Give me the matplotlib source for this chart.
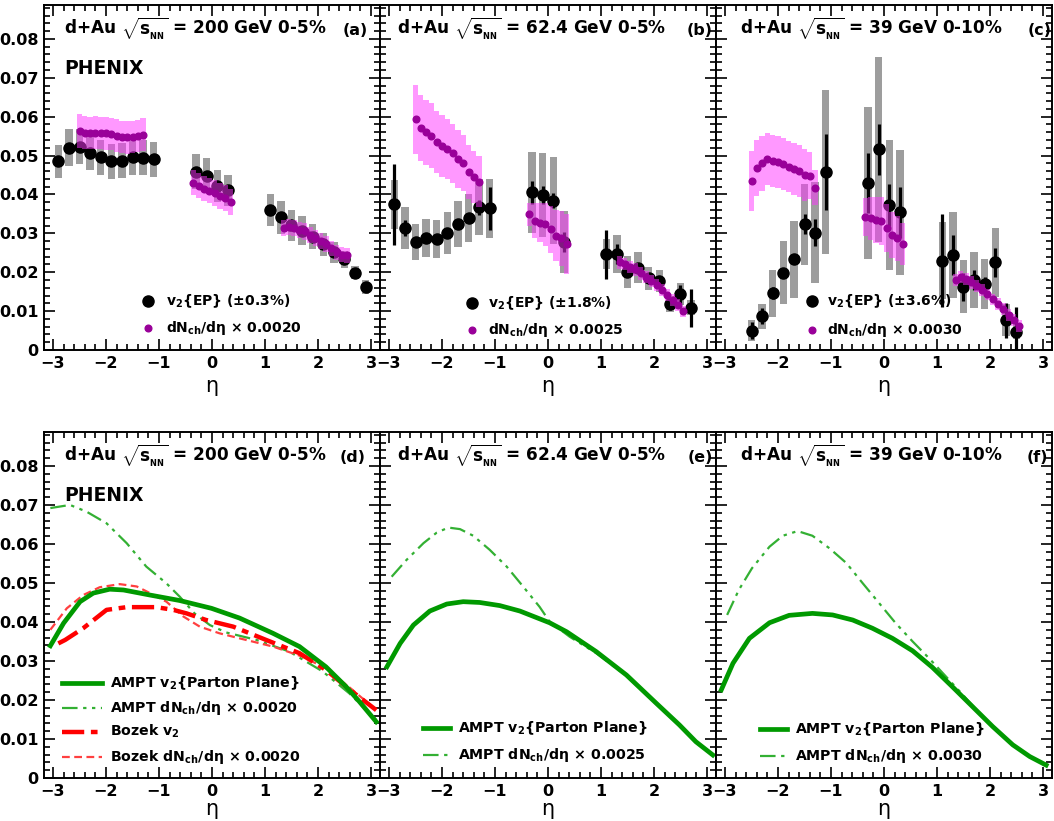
import numpy as np
import matplotlib
matplotlib.use('Agg')
import matplotlib.pyplot as plt
from matplotlib.ticker import MultipleLocator, FuncFormatter

plt.rcParams['font.family'] = ['DejaVu Sans']
plt.rcParams['font.weight'] = 'bold'
plt.rcParams['mathtext.fontset'] = 'custom'
plt.rcParams['mathtext.rm'] = 'DejaVu Sans:bold'
plt.rcParams['mathtext.it'] = 'DejaVu Sans:bold'
plt.rcParams['mathtext.bf'] = 'DejaVu Sans:bold'

# ---------------- data: top row (measured v2 and scaled dN/deta) ----------------
eta_v2_ab = [-2.9, -2.7, -2.5, -2.3, -2.1, -1.9, -1.7, -1.5, -1.3, -1.1,
             -0.3, -0.1, 0.1, 0.3,
             1.1, 1.3, 1.5, 1.7, 1.9, 2.1, 2.3, 2.5, 2.7, 2.9]
v2_a = [0.0485, 0.0520, 0.0523, 0.0507, 0.0495, 0.0485, 0.0486, 0.0495, 0.0494, 0.0490,
        0.0458, 0.0448, 0.0422, 0.0411,
        0.0360, 0.0341, 0.0321, 0.0307, 0.0291, 0.0272, 0.0251, 0.0233, 0.0199, 0.0163]
stat_a = [0.0005, 0.0005, 0.0005, 0.0005, 0.0005, 0.0005, 0.0005, 0.0005, 0.0005, 0.0005,
          0.0005, 0.0005, 0.0005, 0.0005,
          0.0005, 0.0005, 0.0005, 0.0005, 0.0005, 0.0005, 0.0005, 0.0005, 0.0008, 0.0012]
sys_a = [0.0042, 0.0047, 0.0046, 0.0045, 0.0045, 0.0045, 0.0045, 0.0045, 0.0045, 0.0045,
         0.0045, 0.0045, 0.0042, 0.0040,
         0.0042, 0.0043, 0.0040, 0.0037, 0.0032, 0.0030, 0.0027, 0.0022, 0.0017, 0.0018]

eta_v2_b = [-2.9, -2.7, -2.5, -2.3, -2.1, -1.9, -1.7, -1.5, -1.3, -1.1,
            -0.3, -0.1, 0.1, 0.3,
            1.1, 1.3, 1.5, 1.7, 1.9, 2.1, 2.3, 2.5, 2.7]
v2_b = [0.0375, 0.0313, 0.0278, 0.0289, 0.0285, 0.0302, 0.0323, 0.0340, 0.0367, 0.0364,
        0.0405, 0.0398, 0.0384, 0.0278,
        0.0246, 0.0247, 0.0200, 0.0212, 0.0184, 0.0177, 0.0118, 0.0143, 0.0109]
stat_b = [0.0104, 0.0020, 0.0010, 0.0010, 0.0010, 0.0010, 0.0010, 0.0010, 0.0019, 0.0056,
          0.0030, 0.0023, 0.0020, 0.0025,
          0.0063, 0.0025, 0.0012, 0.0010, 0.0010, 0.0012, 0.0015, 0.0024, 0.0049]
sys_b = [0.0063, 0.0054, 0.0047, 0.0049, 0.0049, 0.0054, 0.0059, 0.0062, 0.0072, 0.0075,
         0.0104, 0.0108, 0.0112, 0.0080,
         0.0039, 0.0048, 0.0041, 0.0039, 0.0030, 0.0028, 0.0020, 0.0028, 0.0020]

eta_v2_c = [-2.5, -2.3, -2.1, -1.9, -1.7, -1.5, -1.3, -1.1,
            -0.3, -0.1, 0.1, 0.3,
            1.1, 1.3, 1.5, 1.7, 1.9, 2.1, 2.3, 2.5]
v2_c = [0.0050, 0.0087, 0.0146, 0.0199, 0.0233, 0.0323, 0.0302, 0.0458,
        0.0430, 0.0516, 0.0373, 0.0354,
        0.0230, 0.0244, 0.0163, 0.0180, 0.0169, 0.0225, 0.0077, 0.0047]
stat_c = [0.0023, 0.0020, 0.0015, 0.0010, 0.0010, 0.0026, 0.0035, 0.0097,
          0.0077, 0.0066, 0.0055, 0.0066,
          0.0119, 0.0051, 0.0036, 0.0026, 0.0019, 0.0037, 0.0045, 0.0064]
sys_c = [0.0026, 0.0032, 0.0060, 0.0082, 0.0099, 0.0104, 0.0129, 0.0210,
         0.0195, 0.0238, 0.0167, 0.0160,
         0.0099, 0.0111, 0.0069, 0.0071, 0.0064, 0.0088, 0.0040, 0.0020]

eta_dn = [-2.5, -2.4, -2.3, -2.2, -2.1, -2.0, -1.9, -1.8, -1.7, -1.6, -1.5, -1.4, -1.3,
          -0.35, -0.25, -0.15, -0.05, 0.05, 0.15, 0.25, 0.35,
          1.35, 1.45, 1.55, 1.65, 1.75, 1.85, 1.95, 2.05, 2.15, 2.25, 2.35, 2.45, 2.55]
dn_a = [0.0564, 0.0559, 0.0558, 0.0559, 0.0558, 0.0557, 0.0555, 0.0551, 0.0548, 0.0547, 0.0548, 0.0550, 0.0554,
        0.0430, 0.0422, 0.0415, 0.0410, 0.0403, 0.0396, 0.0390, 0.0381,
        0.0314, 0.0317, 0.0314, 0.0309, 0.0305, 0.0295, 0.0288, 0.0280, 0.0272, 0.0261, 0.0251, 0.0245, 0.0243]
dnerr_a = [0.0044, 0.0042, 0.0042, 0.0042, 0.0042, 0.0042, 0.0042, 0.0042, 0.0042, 0.0042, 0.0042, 0.0042, 0.0042,
           0.0032, 0.0032, 0.0032, 0.0032, 0.0033, 0.0033, 0.0033, 0.0034,
           0.0021, 0.0021, 0.0021, 0.0021, 0.0021, 0.0020, 0.0020, 0.0020, 0.0020, 0.0020, 0.0020, 0.0020, 0.0020]
dn_b = [0.0593, 0.0570, 0.0560, 0.0551, 0.0534, 0.0524, 0.0516, 0.0506, 0.0491, 0.0480, 0.0457, 0.0444, 0.0433,
        0.0349, 0.0332, 0.0327, 0.0323, 0.0310, 0.0294, 0.0287, 0.0272,
        0.0225, 0.0221, 0.0214, 0.0207, 0.0197, 0.0188, 0.0178, 0.0167, 0.0154, 0.0141, 0.0129, 0.0116, 0.0099]
dnerr_b = [0.0088, 0.0085, 0.0084, 0.0083, 0.0080, 0.0079, 0.0077, 0.0076, 0.0074, 0.0072, 0.0069, 0.0067, 0.0065,
           0.0030, 0.0045, 0.0050, 0.0055, 0.0060, 0.0065, 0.0070, 0.0077,
           0.0016, 0.0016, 0.0016, 0.0016, 0.0016, 0.0016, 0.0015, 0.0015, 0.0015, 0.0015, 0.0015, 0.0015, 0.0015]
dn_c = [0.0435, 0.0469, 0.0480, 0.0491, 0.0486, 0.0483, 0.0478, 0.0471, 0.0465, 0.0460, 0.0450, 0.0448, 0.0417,
        0.0343, 0.0339, 0.0334, 0.0332, 0.0313, 0.0296, 0.0287, 0.0272,
        0.0180, 0.0187, 0.0182, 0.0174, 0.0165, 0.0154, 0.0143, 0.0130, 0.0118, 0.0105, 0.0090, 0.0077, 0.0062]
dnerr_c = [0.0077, 0.0072, 0.0070, 0.0068, 0.0066, 0.0066, 0.0066, 0.0066, 0.0066, 0.0066, 0.0066, 0.0060, 0.0045,
           0.0049, 0.0055, 0.0060, 0.0062, 0.0062, 0.0060, 0.0058, 0.0054,
           0.0016, 0.0016, 0.0016, 0.0016, 0.0016, 0.0016, 0.0015, 0.0015, 0.0015, 0.0015, 0.0015, 0.0015, 0.0015]

# ---------------- data: bottom row (model curves) ----------------
d_eta_ampt_v2 = [-3.05, -2.80, -2.49, -2.24, -1.93, -1.67, -1.17, -0.61, -0.01, 0.52, 1.15, 1.65, 2.15, 2.53, 2.78, 3.10]
d_ampt_v2 = [0.0339, 0.0397, 0.0452, 0.0474, 0.0484, 0.0482, 0.0469, 0.0455, 0.0435, 0.0410, 0.0371, 0.0337, 0.0285, 0.0234, 0.0196, 0.0144]
d_eta_ampt_dn = [-3.05, -2.68, -2.37, -1.99, -1.61, -1.24, -0.86, -0.61, -0.33, -0.04, 0.27, 0.84, 1.46, 2.09, 2.59, 3.10]
d_ampt_dn = [0.0692, 0.0700, 0.0683, 0.0653, 0.0602, 0.0542, 0.0499, 0.0465, 0.0422, 0.0392, 0.0373, 0.0354, 0.0324, 0.0273, 0.0217, 0.0149]
d_eta_bozek_v2 = [-2.90, -2.77, -2.43, -1.99, -1.61, -1.05, -0.73, -0.48, -0.11, 0.40, 1.02, 1.65, 2.15, 2.65, 3.10]
d_bozek_v2 = [0.0345, 0.0354, 0.0384, 0.0431, 0.0438, 0.0438, 0.0431, 0.0422, 0.0405, 0.0388, 0.0354, 0.0320, 0.0277, 0.0221, 0.0174]
d_eta_bozek_dn = [-3.05, -2.74, -2.43, -2.12, -1.74, -1.42, -1.17, -0.86, -0.54, -0.23, 0.14, 0.52, 1.15, 1.71, 2.15, 2.65, 3.10]
d_bozek_dn = [0.0380, 0.0435, 0.0469, 0.0489, 0.0497, 0.0491, 0.0474, 0.0452, 0.0414, 0.0388, 0.0371, 0.0358, 0.0337, 0.0311, 0.0281, 0.0226, 0.0174]

e_eta_ampt_v2 = [-3.04, -2.79, -2.54, -2.23, -1.91, -1.60, -1.29, -0.91, -0.53, 0.03, 0.35, 0.91, 1.48, 2.04, 2.48, 2.79, 3.11]
e_ampt_v2 = [0.0285, 0.0345, 0.0392, 0.0428, 0.0446, 0.0452, 0.0450, 0.0442, 0.0428, 0.0398, 0.0375, 0.0324, 0.0264, 0.0192, 0.0136, 0.0093, 0.0059]
e_eta_ampt_dn = [-2.95, -2.67, -2.35, -2.10, -1.88, -1.66, -1.41, -1.10, -0.78, -0.47, -0.16, 0.03, 0.41, 0.91, 1.48, 2.04, 2.48, 2.79, 3.11]
e_ampt_dn = [0.0516, 0.0559, 0.0602, 0.0629, 0.0642, 0.0638, 0.0621, 0.0585, 0.0542, 0.0491, 0.0439, 0.0401, 0.0362, 0.0320, 0.0262, 0.0190, 0.0134, 0.0091, 0.0058]

f_eta_ampt_v2 = [-3.07, -2.85, -2.54, -2.16, -1.79, -1.35, -0.97, -0.59, -0.22, 0.16, 0.54, 0.91, 1.29, 1.67, 2.05, 2.43, 2.75, 3.06]
f_ampt_v2 = [0.0226, 0.0294, 0.0358, 0.0398, 0.0417, 0.0422, 0.0418, 0.0405, 0.0384, 0.0358, 0.0326, 0.0284, 0.0234, 0.0183, 0.0132, 0.0085, 0.0055, 0.0033]
f_eta_ampt_dn = [-2.96, -2.74, -2.49, -2.16, -1.91, -1.63, -1.35, -1.03, -0.71, -0.40, -0.09, 0.22, 0.54, 0.85, 1.17, 1.49, 1.80, 2.12, 2.43, 2.75, 3.06]
f_ampt_dn = [0.0418, 0.0482, 0.0538, 0.0593, 0.0621, 0.0633, 0.0621, 0.0589, 0.0551, 0.0499, 0.0448, 0.0397, 0.0350, 0.0307, 0.0260, 0.0213, 0.0166, 0.0123, 0.0085, 0.0055, 0.0035]

titles_top = ["200 GeV 0-5%", "62.4 GeV 0-5%", "39 GeV 0-10%"]
titles_bot = ["200 GeV 0-5%", "62.4 GeV 0-5%", "39 GeV 0-10%"]
panel_tags_top = ["(a)", "(b)", "(c)"]
panel_tags_bot = ["(d)", "(e)", "(f)"]
ep_labels = ["(±0.3%)", "(±1.8%)", "(±3.6%)"]
scale_labels = ["0.0020", "0.0025", "0.0030"]

GRAY = '#8c8c8c'
PINK = '#ff33ff'
PURPLE = '#990099'
GREEN = '#009900'
GREEN2 = '#33b033'
RED = '#ff0000'
RED2 = '#ff4040'

W, H = 1054, 821
fig = plt.figure(figsize=(W / 100, H / 100), dpi=100)
lefts = [44, 380, 716]
pw = 336


def make_ax(left_px, top_px, bot_px):
    return fig.add_axes([left_px / W, 1 - bot_px / H, pw / W, (bot_px - top_px) / H])


def style(ax, show_y, lpad):
    ax.set_xlim(-3.17, 3.17)
    ax.set_ylim(0, 0.0887)
    ax.xaxis.set_major_locator(MultipleLocator(1))
    ax.xaxis.set_minor_locator(MultipleLocator(0.2))
    ax.yaxis.set_major_locator(MultipleLocator(0.01))
    ax.yaxis.set_minor_locator(MultipleLocator(0.002))
    ax.tick_params(which='both', direction='in', top=True, right=True, width=1.2)
    ax.tick_params(which='major', length=8, labelsize=11.5, pad=4)
    ax.tick_params(which='minor', length=4)
    ax.yaxis.set_major_formatter(FuncFormatter(lambda v, p: '0' if abs(v) < 1e-9 else f'{v:.2f}'))
    ax.xaxis.set_major_formatter(FuncFormatter(lambda v, p: f'{int(round(v))}'.replace('-', '\u2212')))
    if not show_y:
        ax.tick_params(labelleft=False)
    for s in ax.spines.values():
        s.set_linewidth(1.4)
    ax.set_xlabel('η', fontsize=15, fontweight='normal', labelpad=lpad)


def title(ax, x, txt, tag, tagx):
    ax.text(x, 0.913, r'd+Au $\sqrt{s_{_{\rm NN}}}$ = ' + txt, transform=ax.transAxes,
            fontsize=12.2, va='baseline', ha='left')
    ax.text(tagx, 0.913, tag, transform=ax.transAxes, fontsize=11.5, va='baseline', ha='center')


tx_top = [0.06, 0.05, 0.071]
tag_x = [0.925, 0.952, 0.962]

# ---------------- top row ----------------
top_sets = [
    (eta_v2_ab, v2_a, stat_a, sys_a, dn_a, dnerr_a),
    (eta_v2_b, v2_b, stat_b, sys_b, dn_b, dnerr_b),
    (eta_v2_c, v2_c, stat_c, sys_c, dn_c, dnerr_c),
]
leg_top = [(0.31, 0.363, 0.142, 0.064), (0.273, 0.321, 0.137, 0.058), (0.285, 0.33, 0.142, 0.058)]
for i, (eta, v2, st, sy, dn, dne) in enumerate(top_sets):
    ax = make_ax(lefts[i], 5, 350)
    style(ax, i == 0, 4)
    eta = np.array(eta); v2 = np.array(v2); sy = np.array(sy)
    dn = np.array(dn); dne = np.array(dne)
    ax.bar(eta, 2 * sy, bottom=v2 - sy, width=0.14, color=GRAY, alpha=0.85, linewidth=0, zorder=1)
    ax.errorbar(eta, v2, yerr=st, fmt='o', ms=8, color='k', elinewidth=2.3, capsize=0, zorder=2)
    ax.bar(eta_dn, 2 * dne, bottom=dn - dne, width=0.1, color=PINK, alpha=0.5, linewidth=0, zorder=3)
    ax.plot(eta_dn, dn, 'o', ms=4.8, color=PURPLE, zorder=4, linestyle='none')
    title(ax, tx_top[i], titles_top[i], panel_tags_top[i], tag_x[i])
    if i == 0:
        ax.text(0.06, 0.80, 'PHENIX', transform=ax.transAxes, fontsize=13.5, va='baseline')
    mx, tx, y1, y2 = leg_top[i]
    ax.plot([mx], [y1], 'o', ms=8, color='k', transform=ax.transAxes, clip_on=False)
    ax.plot([mx], [y2], 'o', ms=4.8, color=PURPLE, transform=ax.transAxes, clip_on=False)
    ax.text(tx, y1, r'v$_2${EP} ' + ep_labels[i], transform=ax.transAxes, fontsize=10, va='center')
    ax.text(tx, y2, r'dN$_{\rm ch}$/dη × ' + scale_labels[i], transform=ax.transAxes, fontsize=10, va='center')

# ---------------- bottom row ----------------
DASHDOTDOT = (0, (7, 2.5, 1.5, 2.5, 1.5, 2.5))
DASHDOT = (0, (5, 1.5, 1.5, 1.5))
DASHED = (0, (3.5, 2))
tx_bot = [0.06, 0.05, 0.071]
tag_xb = [0.92, 0.952, 0.955]
for i in range(3):
    ax = make_ax(lefts[i], 432, 778)
    style(ax, i == 0, 0.5)
    title(ax, tx_bot[i], titles_bot[i], panel_tags_bot[i], tag_xb[i])
    if i == 0:
        ax.text(0.06, 0.80, 'PHENIX', transform=ax.transAxes, fontsize=13.5, va='baseline')
        ax.plot(d_eta_ampt_dn, d_ampt_dn, color=GREEN2, lw=1.6, ls=DASHDOTDOT, zorder=2)
        ax.plot(d_eta_bozek_dn, d_bozek_dn, color=RED2, lw=1.6, ls=DASHED, zorder=2)
        ax.plot(d_eta_bozek_v2, d_bozek_v2, color=RED, lw=3.2, ls=DASHDOT, zorder=3)
        ax.plot(d_eta_ampt_v2, d_ampt_v2, color=GREEN, lw=3.4, zorder=4)
        entries = [
            (dict(color=GREEN, lw=3.4), r'AMPT v$_2${Parton Plane}'),
            (dict(color=GREEN2, lw=1.6, ls=DASHDOTDOT), r'AMPT dN$_{\rm ch}$/dη × 0.0020'),
            (dict(color=RED, lw=3.2, ls=DASHDOT), r'Bozek v$_2$'),
            (dict(color=RED2, lw=1.6, ls=DASHED), r'Bozek dN$_{\rm ch}$/dη × 0.0020'),
        ]
        ys = [0.274, 0.201, 0.134, 0.062]
        x0, x1, xt = 0.053, 0.172, 0.196
    else:
        if i == 1:
            et, vv, ed, dd, sc = e_eta_ampt_v2, e_ampt_v2, e_eta_ampt_dn, e_ampt_dn, '0.0025'
        else:
            et, vv, ed, dd, sc = f_eta_ampt_v2, f_ampt_v2, f_eta_ampt_dn, f_ampt_dn, '0.0030'
        ax.plot(ed, dd, color=GREEN2, lw=1.6, ls=DASHDOTDOT, zorder=2)
        ax.plot(et, vv, color=GREEN, lw=3.4, zorder=3)
        entries = [
            (dict(color=GREEN, lw=3.4), r'AMPT v$_2${Parton Plane}'),
            (dict(color=GREEN2, lw=1.6, ls=DASHDOTDOT), r'AMPT dN$_{\rm ch}$/dη × ' + sc),
        ]
        ys = [0.144, 0.066] if i == 1 else [0.141, 0.064]
        x0, x1, xt = (0.128, 0.208, 0.232) if i == 1 else (0.131, 0.211, 0.235)
    for (kw, lab), yy in zip(entries, ys):
        ax.plot([x0, x1], [yy, yy], transform=ax.transAxes, clip_on=False, **kw)
        ax.text(xt, yy, lab, transform=ax.transAxes, fontsize=10.2, va='center')

fig.savefig('out.png', dpi=100)
